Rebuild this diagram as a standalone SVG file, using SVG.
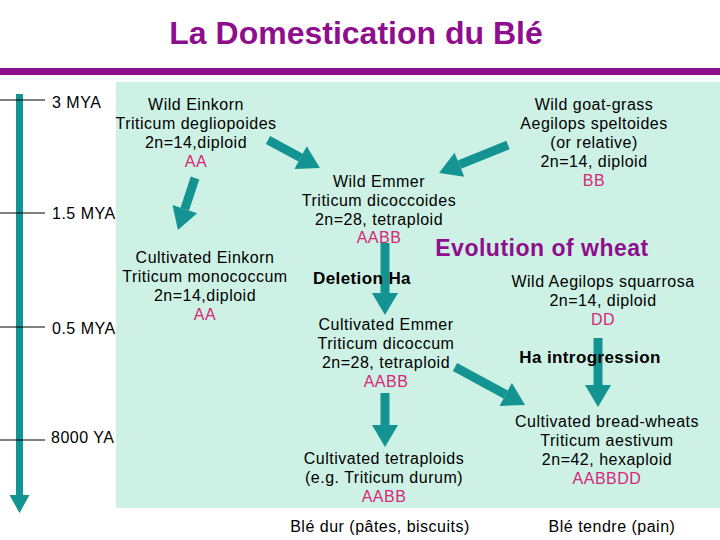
<svg xmlns="http://www.w3.org/2000/svg" width="720" height="540" viewBox="0 0 720 540">
<style>
text{font-family:"Liberation Sans",Arial,sans-serif;font-size:16px;letter-spacing:0.5px;fill:#000;text-anchor:middle}
.g{fill:#D6277A}
.b{font-weight:bold;font-size:17px;letter-spacing:0.4px}
.l{text-anchor:start}
.t{font-size:32px;font-weight:bold;fill:#8E0E8E;letter-spacing:0}
.e{font-size:23px;font-weight:bold;fill:#8E0E8E}
.a{stroke:#139391;stroke-width:9;fill:none}
.tick{stroke:#000;stroke-width:1}
</style>
<defs>
<marker id="h" markerUnits="userSpaceOnUse" markerWidth="40" markerHeight="40" refX="0" refY="0" orient="auto" overflow="visible">
<path d="M0,-13 L22,0 L0,13 Z" fill="#139391"/>
</marker>
<marker id="ht" markerUnits="userSpaceOnUse" markerWidth="40" markerHeight="40" refX="0" refY="0" orient="auto" overflow="visible">
<path d="M0,-10 L18,0 L0,10 Z" fill="#139391"/>
</marker>
</defs>
<rect width="720" height="540" fill="#fff"/>
<g id="title">
<text class="t" x="356" y="44">La Domestication du Blé</text>
<rect x="0" y="68" width="720" height="7" fill="#8E0E8E"/>
</g>
<rect id="panel" x="116" y="82" width="604" height="426" fill="#CDF2E5"/>
<g id="timeline">
<line x1="19.5" y1="94" x2="19.5" y2="495" stroke="#139391" stroke-width="7" marker-end="url(#ht)"/>
<line class="tick" x1="0" y1="100" x2="45" y2="100"/>
<line class="tick" x1="0" y1="213" x2="45" y2="213"/>
<line class="tick" x1="0" y1="327" x2="45" y2="327"/>
<line class="tick" x1="0" y1="440" x2="45" y2="440"/>
<text class="l" x="52" y="108">3 MYA</text>
<text class="l" x="52" y="219">1.5 MYA</text>
<text class="l" x="52" y="334">0.5 MYA</text>
<text class="l" x="51" y="443">8000 YA</text>
</g>
<g id="connectors">
<line class="a" x1="268" y1="140" x2="300.6" y2="157.6" marker-end="url(#h)"/>
<line class="a" x1="195" y1="178" x2="184.8" y2="209.1" marker-end="url(#h)"/>
<line class="a" x1="508" y1="145" x2="459.4" y2="164.7" marker-end="url(#h)"/>
<line class="a" x1="385" y1="243" x2="385" y2="293" marker-end="url(#h)"/>
<line class="a" x1="385" y1="393" x2="385" y2="425" marker-end="url(#h)"/>
<line class="a" x1="455" y1="367" x2="505.7" y2="394.5" marker-end="url(#h)"/>
<line class="a" x1="598" y1="338" x2="598" y2="385" marker-end="url(#h)"/>
</g>
<g id="wild-einkorn">
<text x="196" y="110">Wild Einkorn</text>
<text x="196" y="129">Triticum degliopoides</text>
<text x="196" y="148">2n=14,diploid</text>
<text class="g" x="196" y="167">AA</text>
</g>
<g id="wild-goat-grass">
<text x="594" y="110">Wild goat-grass</text>
<text x="594" y="129">Aegilops speltoides</text>
<text x="594" y="148">(or relative)</text>
<text x="594" y="167">2n=14, diploid</text>
<text class="g" x="594" y="186">BB</text>
</g>
<g id="wild-emmer">
<text x="379" y="187">Wild Emmer</text>
<text x="379" y="206">Triticum dicoccoides</text>
<text x="379" y="225">2n=28, tetraploid</text>
<text class="g" x="379" y="243">AABB</text>
</g>
<text id="evolution" class="e" x="542" y="256">Evolution of wheat</text>
<g id="cultivated-einkorn">
<text x="205" y="263">Cultivated Einkorn</text>
<text x="205" y="282">Triticum monococcum</text>
<text x="205" y="301">2n=14,diploid</text>
<text class="g" x="205" y="320">AA</text>
</g>
<text id="deletion" class="b" x="362" y="284">Deletion Ha</text>
<g id="cultivated-emmer">
<text x="386" y="330">Cultivated Emmer</text>
<text x="386" y="349">Triticum dicoccum</text>
<text x="386" y="368">2n=28, tetraploid</text>
<text class="g" x="386" y="387">AABB</text>
</g>
<g id="wild-aegilops">
<text x="603" y="287">Wild Aegilops squarrosa</text>
<text x="603" y="306">2n=14, diploid</text>
<text class="g" x="603" y="325">DD</text>
</g>
<text id="introgression" class="b" x="590" y="363">Ha introgression</text>
<g id="cultivated-tetraploids">
<text x="384" y="464">Cultivated tetraploids</text>
<text x="384" y="483">(e.g. Triticum durum)</text>
<text class="g" x="384" y="502">AABB</text>
</g>
<g id="bread-wheats">
<text x="607" y="427">Cultivated bread-wheats</text>
<text x="607" y="446">Triticum aestivum</text>
<text x="607" y="465">2n=42, hexaploid</text>
<text class="g" x="607" y="484">AABBDD</text>
</g>
<text x="380" y="532">Blé dur (pâtes, biscuits)</text>
<text x="612" y="532">Blé tendre (pain)</text>
</svg>
